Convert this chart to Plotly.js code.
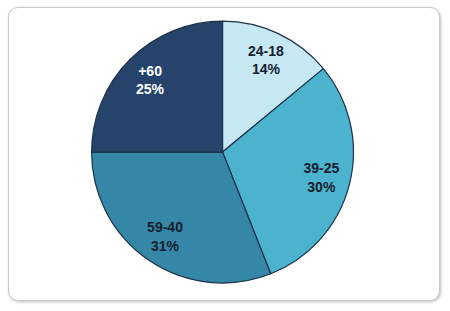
<!DOCTYPE html>
<html>
<head>
<meta charset="utf-8">
<script src="https://cdn.plot.ly/plotly-3.0.1.min.js"></script>
<style>
html,body{margin:0;padding:0;background:#ffffff;width:450px;height:311px;overflow:hidden;}
#frame{position:absolute;left:8px;top:7px;width:430px;height:292px;border:1px solid #c9c9c9;border-radius:10px;box-shadow:1px 1px 3px rgba(0,0,0,0.25);background:#fff;}
#chart{position:absolute;left:0;top:0;width:450px;height:311px;}
</style>
</head>
<body>
<div id="frame"></div>
<div id="chart"></div>
<script>
var categories = ["24-18", "39-25", "59-40", "+60"];
var shares = [14, 30, 31, 25];
var sliceColors = ["#c6e8f2", "#4cb3cf", "#3487a6", "#26446b"];
var textColors = ["#16202e", "#16202e", "#16202e", "#ffffff"];

var pieDomain = {x: [0.202, 0.787], y: [0.09, 0.932]};

var slices = {
  type: "pie",
  labels: categories,
  values: shares,
  sort: false,
  direction: "clockwise",
  rotation: 0,
  textinfo: "none",
  marker: {colors: sliceColors, line: {color: "#1d3148", width: 1.2}},
  hoverinfo: "none",
  showlegend: false,
  domain: pieDomain
};

var labelsRing = {
  type: "pie",
  labels: categories,
  values: shares,
  sort: false,
  direction: "clockwise",
  rotation: 0,
  hole: 0.56,
  texttemplate: "%{label}<br>%{value}%",
  textposition: "inside",
  insidetextorientation: "horizontal",
  insidetextfont: {family: "Arial, Liberation Sans, sans-serif", size: 14, color: textColors, weight: "bold"},
  marker: {colors: ["rgba(0,0,0,0)", "rgba(0,0,0,0)", "rgba(0,0,0,0)", "rgba(0,0,0,0)"], line: {width: 0}},
  hoverinfo: "none",
  showlegend: false,
  domain: pieDomain
};

var layout = {
  width: 450,
  height: 311,
  margin: {l: 0, r: 0, t: 0, b: 0},
  paper_bgcolor: "rgba(0,0,0,0)",
  plot_bgcolor: "rgba(0,0,0,0)",
  showlegend: false
};

Plotly.newPlot("chart", [slices, labelsRing], layout, {displayModeBar: false, staticPlot: true});
</script>
</body>
</html>
